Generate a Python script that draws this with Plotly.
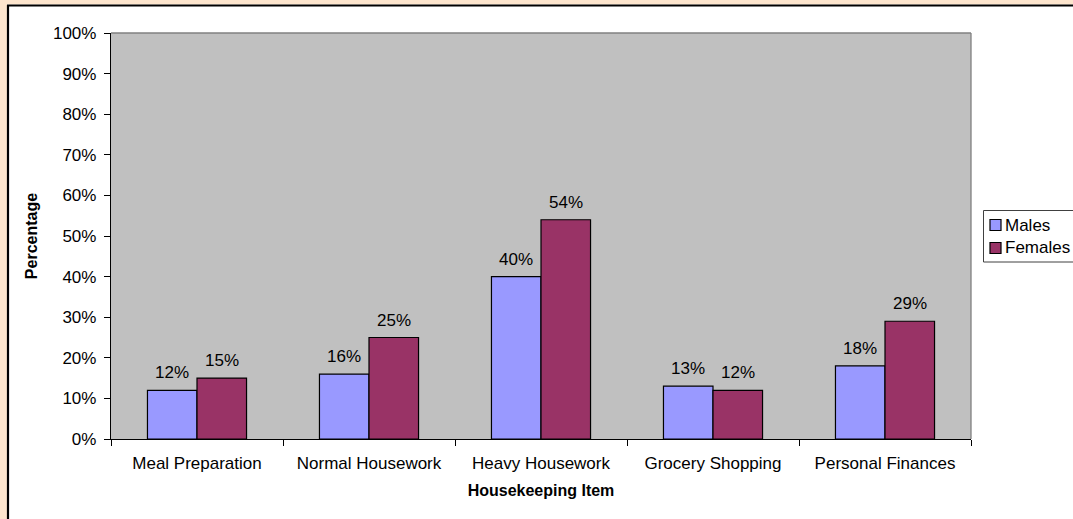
import plotly.graph_objects as go

# Survey results: share of respondents needing help, by housekeeping item
categories = ["Meal Preparation", "Normal Housework", "Heavy Housework",
              "Grocery Shopping", "Personal Finances"]
males = [12, 16, 40, 13, 18]
females = [15, 25, 54, 12, 29]
series_names = ["Males", "Females"]
y_ticks = list(range(0, 101, 10))

W, H = 1073, 519
ML, MR, MT, MB = 111, 102, 33, 80
PW, PH = W - ML - MR, H - MT - MB
FONT = "Liberation Sans, Arial, sans-serif"
FS = 17
COL_M, COL_F = "#9999FF", "#993366"
PEACH = "#FDE5CD"
BARGAP = 0.424


def px(x):
    return (x - ML) / PW


def py(y):
    return (H - MB - y) / PH


fig = go.Figure()
for name, vals, col in [(series_names[0], males, COL_M), (series_names[1], females, COL_F)]:
    fig.add_trace(go.Bar(
        name=name, x=categories, y=vals,
        marker=dict(color=col, line=dict(color="black", width=1.2)),
        showlegend=False,
    ))

# value labels above each bar
bar_px = PW / len(categories) * (1 - BARGAP) / 2
annotations = []
for vals, shift in [(males, -bar_px / 2), (females, bar_px / 2)]:
    for c, v in zip(categories, vals):
        annotations.append(dict(
            x=c, y=v, xref="x", yref="y", text=f"{v}%", showarrow=False,
            xshift=shift, yshift=6, yanchor="bottom",
            font=dict(family=FONT, size=FS, color="black"),
        ))

# legend drawn as a small framed key on the right
legend_items = [(series_names[0], COL_M, 225), (series_names[1], COL_F, 248)]
shapes = [
    # outer peach frame, white chart area, black border
    dict(type="rect", xref="paper", yref="paper", x0=px(-10), x1=px(7), y0=py(540), y1=py(-10),
         fillcolor=PEACH, line=dict(width=0), layer="above"),
    dict(type="rect", xref="paper", yref="paper", x0=px(-10), x1=px(1090), y0=py(4.5), y1=py(-10),
         fillcolor=PEACH, line=dict(width=0), layer="above"),
    dict(type="line", xref="paper", yref="paper", x0=px(8), x1=px(8), y0=py(5), y1=py(540),
         line=dict(color="black", width=2.2), layer="above"),
    dict(type="line", xref="paper", yref="paper", x0=px(7), x1=px(1090), y0=py(5.5), y1=py(5.5),
         line=dict(color="black", width=2.2), layer="above"),
    # plot area frame (top/right)
    dict(type="line", xref="paper", yref="paper", x0=0, x1=1, y0=1, y1=1,
         line=dict(color="#808080", width=1.3), layer="above"),
    dict(type="line", xref="paper", yref="paper", x0=1, x1=1, y0=0, y1=1,
         line=dict(color="#808080", width=1.3), layer="above"),
    # legend box
    dict(type="rect", xref="paper", yref="paper", x0=px(983.5), x1=px(1090), y0=py(262), y1=py(210.5),
         fillcolor="white", line=dict(color="#404040", width=1), layer="above"),
]
for name, col, yc in legend_items:
    shapes.append(dict(type="rect", xref="paper", yref="paper",
                       x0=px(990), x1=px(1001), y0=py(yc + 5.5), y1=py(yc - 5.5),
                       fillcolor=col, line=dict(color="black", width=1.2), layer="above"))
    annotations.append(dict(x=px(1003), y=py(yc), xref="paper", yref="paper", text=name,
                            showarrow=False, xanchor="left", yanchor="middle",
                            font=dict(family=FONT, size=FS, color="black")))

fig.update_layout(
    width=W, height=H,
    margin=dict(l=ML, r=MR, t=MT, b=MB, pad=0),
    paper_bgcolor="white", plot_bgcolor="#C0C0C0",
    barmode="group", bargap=BARGAP, bargroupgap=0,
    font=dict(family=FONT, size=FS, color="black"),
    showlegend=False,
    annotations=annotations, shapes=shapes,
    xaxis=dict(
        showline=True, linecolor="black", linewidth=1.3,
        ticks="outside", tickson="boundaries", ticklen=6, tickcolor="black",
        showgrid=False, ticklabelstandoff=8,
        title=dict(text="<b>Housekeeping Item</b>", font=dict(size=FS - 1), standoff=13),
    ),
    yaxis=dict(
        range=[0, 100], tickvals=y_ticks, ticktext=[f"{t}%" for t in y_ticks],
        showline=True, linecolor="black", linewidth=1.3,
        ticks="outside", ticklen=6, tickcolor="black", showgrid=False, zeroline=False,
        ticklabelstandoff=4,
        title=dict(text="<b>Percentage</b>", font=dict(size=FS - 1), standoff=11),
    ),
)

fig.write_html("out.html")
